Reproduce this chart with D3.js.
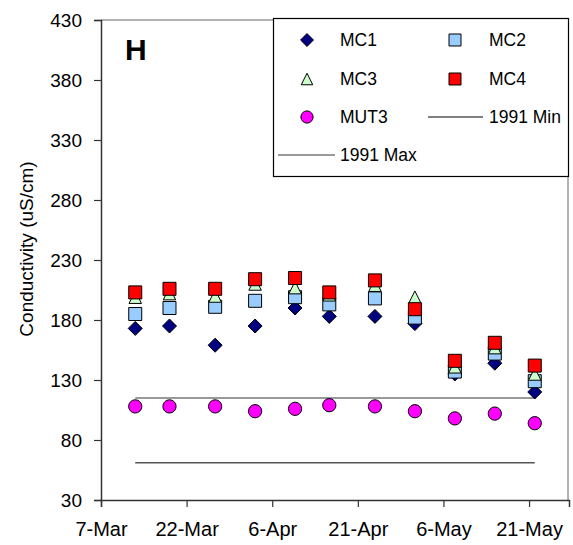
<!DOCTYPE html>
<html>
<head>
<meta charset="utf-8">
<script src="https://cdn.jsdelivr.net/npm/d3@7/dist/d3.min.js"></script>
<style>
  html, body { margin: 0; padding: 0; background: #fff; }
  svg { display: block; font-family: "Liberation Sans", Arial, sans-serif; }
</style>
</head>
<body>
<svg id="chart" width="573" height="545"></svg>
<script>
// Sampling dates (1992 field season)
const sampleDates = ["1992-03-13", "1992-03-19", "1992-03-27", "1992-04-03", "1992-04-10",
                     "1992-04-16", "1992-04-24", "1992-05-01", "1992-05-08", "1992-05-15", "1992-05-22"];

// Conductivity (uS/cm) per station
const mc1  = [173, 175, 159, 175, 190, 183, 183, 177, 135, 144, 120];
const mc2  = [185, 190, 191, 196, 199, 193, 198, 182, 137, 152, 129];
const mc3  = [199, 202, 200, 210, 207, 201, 209, 199, 141, 157, 135];
const mc4  = [203, 206, 206, 214, 215, 203, 213, 189, 146, 161, 142];
const mut3 = [108, 108, 108, 104, 106, 109, 108, 104,  98, 102,  94];

// 1991 reference range
const min1991 = 61;
const max1991 = 115;

// Axes
const yTicks = [30, 80, 130, 180, 230, 280, 330, 380, 430];
const xTickDates = ["1992-03-07", "1992-03-22", "1992-04-06", "1992-04-21", "1992-05-06", "1992-05-21"];
const xDomain = ["1992-03-07", "1992-05-28"];

const panelLabel = "H";
const yTitle = "Conductivity (uS/cm)";

const parse = d3.timeParse("%Y-%m-%d");
const svg = d3.select("#chart");

const plot = { left: 101, right: 569, top: 20, bottom: 500 };

const x = d3.scaleTime().domain(xDomain.map(parse)).range([plot.left, plot.right]);
const y = d3.scaleLinear().domain([30, 430]).range([plot.bottom, plot.top]);

// Custom marker shapes
const diamond = {
  draw(ctx, size) {
    const r = Math.sqrt(size) / 2;
    ctx.moveTo(0, -r); ctx.lineTo(r, 0); ctx.lineTo(0, r); ctx.lineTo(-r, 0); ctx.closePath();
  }
};
const square = {
  draw(ctx, size) {
    const h = Math.sqrt(size) / 2;
    ctx.rect(-h, -h, 2 * h, 2 * h);
  }
};
const triangle = {
  draw(ctx, size) {
    const h = Math.sqrt(size) / 2;
    ctx.moveTo(0, -h); ctx.lineTo(h, h); ctx.lineTo(-h, h); ctx.closePath();
  }
};
const circle = {
  draw(ctx, size) {
    const r = Math.sqrt(size) / 2;
    ctx.moveTo(r, 0); ctx.arc(0, 0, r, 0, 2 * Math.PI);
  }
};

const series = [
  { name: "MC1",  values: mc1,  shape: diamond,  size: 196, fill: "#000080" },
  { name: "MC2",  values: mc2,  shape: square,   size: 169, fill: "#99ccff" },
  { name: "MC3",  values: mc3,  shape: triangle, size: 156, fill: "#ccffcc" },
  { name: "MC4",  values: mc4,  shape: square,   size: 169, fill: "#ff0000" },
  { name: "MUT3", values: mut3, shape: circle,   size: 176, fill: "#ff00ff" }
];

// Plot frame (top and right)
svg.append("path")
  .attr("d", `M${plot.left},${plot.top}H${plot.right - 1}V${plot.bottom}`)
  .attr("fill", "none").attr("stroke", "#999").attr("stroke-width", 1.5);

// 1991 range lines
const dates = sampleDates.map(parse);
const refLine = d3.line().x(d => x(d[0])).y(d => y(d[1]));
svg.append("path")
  .attr("d", refLine([[dates[0], max1991], [dates[dates.length - 1], max1991]]))
  .attr("stroke", "#777").attr("stroke-width", 1.5).attr("fill", "none");
svg.append("path")
  .attr("d", refLine([[dates[0], min1991], [dates[dates.length - 1], min1991]]))
  .attr("stroke", "#555").attr("stroke-width", 1.5).attr("fill", "none");

// Markers
series.forEach(s => {
  svg.append("g").selectAll("path")
    .data(s.values.map((v, i) => [dates[i], v]))
    .join("path")
    .attr("transform", d => `translate(${x(d[0])},${y(d[1])})`)
    .attr("d", d3.symbol().type(s.shape).size(s.size))
    .attr("fill", s.fill)
    .attr("stroke", "#000").attr("stroke-width", 1);
});

// Y axis
const yAxis = svg.append("g")
  .attr("transform", `translate(${plot.left},0)`)
  .call(d3.axisLeft(y).tickValues(yTicks).tickSize(7).tickPadding(12).tickFormat(d3.format("d")));
yAxis.select(".domain").attr("stroke", "#333").attr("stroke-width", 1.5);
yAxis.selectAll(".tick line").attr("stroke", "#333").attr("stroke-width", 1.2);
yAxis.selectAll("text").attr("font-size", 19).attr("fill", "#000")
  .attr("font-family", "Liberation Sans, Arial, sans-serif");

// X axis
const xAxis = svg.append("g")
  .attr("transform", `translate(0,${plot.bottom})`)
  .call(d3.axisBottom(x).tickValues(xTickDates.map(parse)).tickSize(7).tickPadding(15)
        .tickFormat(d3.timeFormat("%-d-%b")));
xAxis.select(".domain").attr("stroke", "#333").attr("stroke-width", 1.5);
xAxis.selectAll(".tick line").attr("stroke", "#333").attr("stroke-width", 1.2);
xAxis.selectAll("text").attr("font-size", 20).attr("fill", "#000")
  .attr("font-family", "Liberation Sans, Arial, sans-serif");

// Y axis title
svg.append("text")
  .attr("transform", "translate(33,249) rotate(-90)")
  .attr("text-anchor", "middle")
  .attr("font-size", 19)
  .text(yTitle);

// Panel label
svg.append("text")
  .attr("x", 125).attr("y", 60)
  .attr("font-size", 30).attr("font-weight", "bold")
  .text(panelLabel);

// Legend
const lg = svg.append("g");
lg.append("rect").attr("x", 273.5).attr("y", 18.5).attr("width", 295).attr("height", 158)
  .attr("fill", "#fff").attr("stroke", "#000").attr("stroke-width", 1.2);

const legendItems = [
  { s: series[0], col: 0, row: 0 },
  { s: series[1], col: 1, row: 0 },
  { s: series[2], col: 0, row: 1 },
  { s: series[3], col: 1, row: 1 },
  { s: series[4], col: 0, row: 2 }
];
const colSym = [307, 455], colText = [340, 489], rowY = [40, 79, 117, 155];

legendItems.forEach(it => {
  lg.append("path")
    .attr("transform", `translate(${colSym[it.col]},${rowY[it.row]})`)
    .attr("d", d3.symbol().type(it.s.shape).size(it.s.size * 0.85))
    .attr("fill", it.s.fill).attr("stroke", "#000").attr("stroke-width", 1);
  lg.append("text").attr("x", colText[it.col]).attr("y", rowY[it.row] + 6)
    .attr("font-size", 17.5).text(it.s.name);
});

// Reference line entries
lg.append("line").attr("x1", 428).attr("x2", 483).attr("y1", rowY[2]).attr("y2", rowY[2])
  .attr("stroke", "#555").attr("stroke-width", 1.5);
lg.append("text").attr("x", 489).attr("y", rowY[2] + 6).attr("font-size", 17.5).text("1991 Min");
lg.append("line").attr("x1", 278).attr("x2", 335).attr("y1", rowY[3]).attr("y2", rowY[3])
  .attr("stroke", "#777").attr("stroke-width", 1.5);
lg.append("text").attr("x", 340).attr("y", rowY[3] + 6).attr("font-size", 17.5).text("1991 Max");
</script>
</body>
</html>
